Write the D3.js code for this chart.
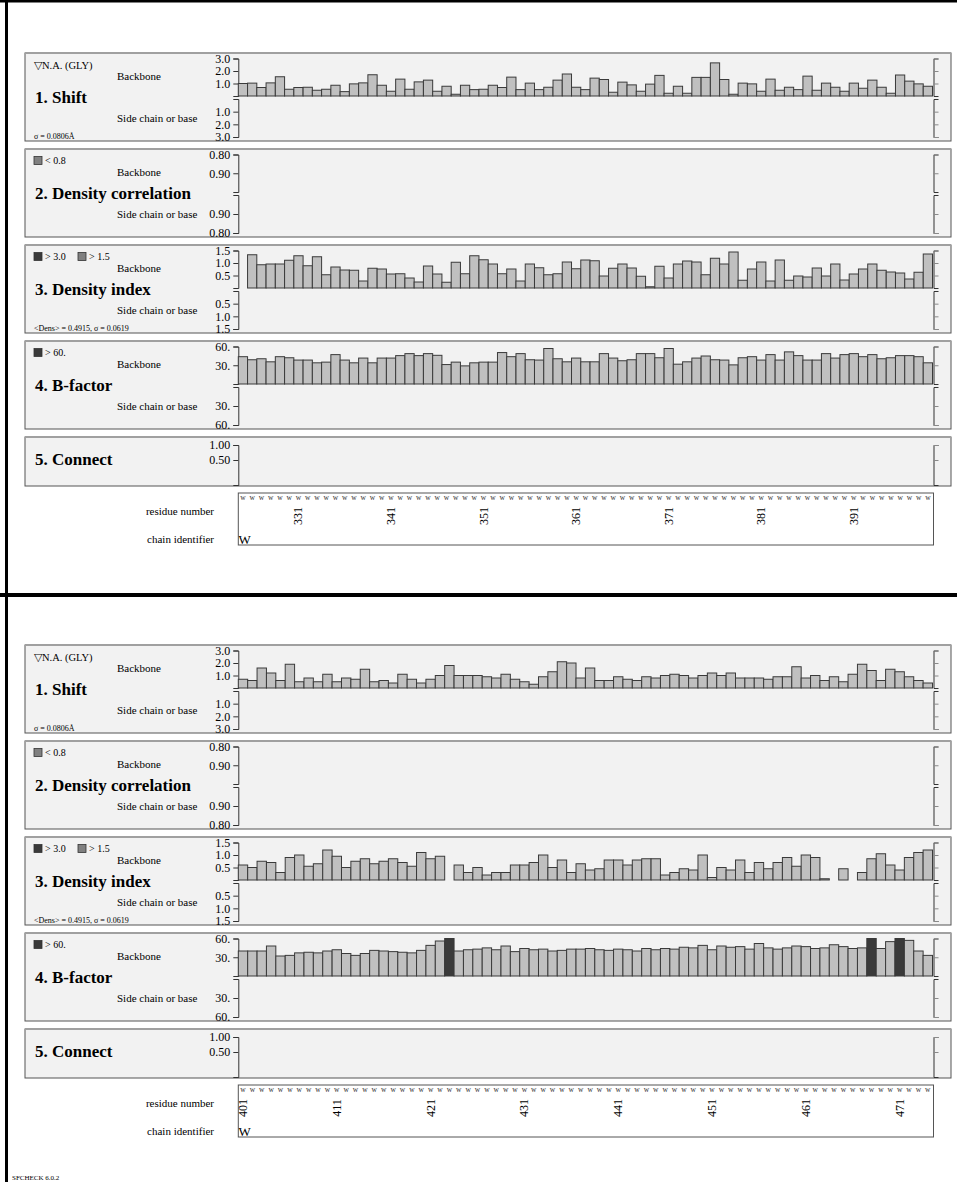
<!DOCTYPE html>
<html><head><meta charset="utf-8">
<script src="https://cdn.jsdelivr.net/npm/d3@7"></script>
<style>
body{margin:0;background:#fff}
svg{display:block;font-family:"Liberation Serif","Times New Roman",serif}
</style></head><body>
<svg id="chart" width="957" height="1182"></svg>
<script>
// ---- residues on each sheet ----
const residuesA = d3.range(325, 400);   // 325 .. 399
const residuesB = d3.range(401, 475);   // 401 .. 474

// ---- backbone values, sheet A ----
const shiftA = [1.00,1.03,0.68,1.05,1.54,0.54,0.68,0.70,0.46,0.54,0.86,0.35,0.97,1.05,1.70,0.86,0.38,1.35,0.54,1.13,
  1.27,0.38,0.78,0.14,0.86,0.51,0.54,0.86,0.68,1.51,0.51,1.03,0.51,0.70,1.27,1.76,0.70,0.51,1.43,1.32,
  0.30,1.11,0.89,0.38,0.95,1.65,0.22,0.78,0.22,1.49,1.49,2.65,1.32,0.14,1.03,0.97,0.38,1.35,0.46,0.70,
  0.51,1.59,0.46,1.03,0.70,0.38,1.03,0.62,1.27,0.70,0.22,1.68,1.19,0.97,0.78];
const densA = [null,1.33,0.93,0.96,0.96,1.11,1.29,0.89,1.25,0.53,0.84,0.72,0.71,0.28,0.79,0.76,0.56,0.57,0.40,0.24,
  0.88,0.56,0.23,1.03,0.57,1.29,1.13,0.96,0.57,0.76,0.28,0.96,0.81,0.53,0.57,1.04,0.77,1.12,1.09,0.48,
  0.79,0.96,0.80,0.47,0.05,0.87,0.40,0.96,1.08,1.04,0.53,1.19,0.96,1.44,0.31,0.76,1.04,0.28,1.12,0.31,
  0.48,0.44,0.80,0.48,0.96,0.32,0.56,0.76,0.96,0.71,0.64,0.60,0.36,0.63,1.36];
const bfacA = [43.7,38.8,40.4,35.5,43.7,42.0,38.3,38.3,33.9,35.0,47.0,38.3,33.9,41.5,33.9,41.5,41.5,45.4,48.6,45.4,
  48.6,45.9,31.1,35.0,29.0,33.9,35.0,35.0,50.3,43.7,48.6,38.8,38.3,56.8,40.4,35.5,41.5,35.5,35.5,48.6,
  41.5,37.2,38.8,48.6,48.6,42.0,56.8,31.7,35.5,41.5,44.8,38.8,38.3,30.6,42.0,43.7,38.3,47.0,38.3,51.4,
  45.4,38.3,38.3,48.6,41.5,47.0,48.6,43.7,47.0,40.4,42.0,45.4,45.4,43.7,33.9];

// ---- backbone values, sheet B ----
const shiftB = [0.7,0.6,1.6,1.2,0.6,1.9,0.5,0.8,0.5,1.1,0.5,0.8,0.7,1.5,0.5,0.6,0.4,1.1,0.7,0.4,
  0.7,1.0,1.8,1.0,1.0,1.0,0.9,0.8,1.1,0.7,0.5,0.3,0.9,1.3,2.1,2.0,0.8,1.6,0.6,0.6,
  0.9,0.7,0.6,0.9,0.8,1.0,1.1,1.0,0.8,1.0,1.2,1.0,1.2,0.8,0.8,0.8,0.7,0.9,0.9,1.7,
  0.8,1.0,0.6,0.9,0.5,1.1,1.9,1.4,0.6,1.5,1.3,0.9,0.6,0.4];
const densB = [0.6,0.5,0.75,0.7,0.3,0.9,1.0,0.55,0.65,1.2,0.95,0.5,0.75,0.85,0.65,0.75,0.85,0.7,0.55,1.1,
  0.85,0.95,null,0.6,0.3,0.5,0.2,0.3,0.3,0.6,0.6,0.7,1.0,0.5,0.8,0.3,0.65,0.4,0.45,0.8,
  0.8,0.6,0.8,0.85,0.85,0.2,0.3,0.45,0.4,1.0,0.1,0.5,0.4,0.8,0.3,0.7,0.45,0.7,0.9,0.55,
  1.0,0.9,0.05,null,0.45,null,0.3,0.85,1.05,0.6,0.4,0.9,1.1,1.2];
const bfacB = [40,40,40,48,32,33,37,38,37,40,42,36,33,36,41,40,39,38,37,41,
  49,56,62,40,42,43,45,42,48,39,44,42,43,40,41,43,43,44,42,41,
  43,42,40,44,42,44,43,46,45,49,42,48,46,47,43,52,45,43,45,48,
  47,44,45,50,47,44,45,62,44,55,62,57,40,33];

// ---- axis ticks ----
const shiftTicks = [1, 2, 3],           shiftLabels = ["1.0", "2.0", "3.0"];
const corrTicks = [0.8, 0.9],           corrLabels = ["0.80", "0.90"];
const densTicks = [0.5, 1.0, 1.5],      densLabels = ["0.5", "1.0", "1.5"];
const bfacTicks = [30, 60],             bfacLabels = ["30.", "60."];
const connTicks = [0.5, 1.0],           connLabels = ["0.50", "1.00"];

const titles = ["1. Shift", "2. Density correlation", "3. Density index", "4. B-factor", "5. Connect"];

// ---- layout ----
const svg = d3.select("#chart");
const W = 957, H = 1182;
const PL = 25, PR = 951;          // panel box
const XA = 238.3, XB = 932.5;     // plotting strip
const panelTops = [53, 149, 245, 341, 437];
const PH = 88, CONN_H = 49;

const BAR_FILL = "#c0c0c0", BAR_MID = "#808080", BAR_DARK = "#3a3a3a";

function tickFmt(ticks, labels) {
  return v => labels[ticks.findIndex(t => Math.abs(t - v) < 1e-9)];
}

function axisPair(g, scale, ticks, labels) {
  const left = d3.axisLeft(scale).tickValues(ticks).tickFormat(tickFmt(ticks, labels))
    .tickSizeInner(5).tickSizeOuter(5).tickPadding(3);
  const right = d3.axisRight(scale).tickValues(ticks).tickFormat("")
    .tickSizeInner(5).tickSizeOuter(5);
  const gl = g.append("g").attr("transform", `translate(${XA},0)`).call(left);
  const gr = g.append("g").attr("transform", `translate(${XB + 1},0)`).call(right);
  [gl, gr].forEach(a => {
    a.selectAll("path.domain").attr("stroke", "#333").attr("stroke-width", 1);
    a.selectAll(".tick line").attr("stroke", "#333");
    a.selectAll(".tick text").attr("font-size", 12).attr("fill", "#000")
      .attr("font-family", "'Liberation Serif',serif");
  });
  gr.selectAll(".tick line").attr("stroke", "#8a8a8a");
}

function panelBox(g, top, h) {
  g.append("rect").attr("x", PL).attr("y", top).attr("width", PR - PL).attr("height", h)
    .attr("fill", "#f2f2f2").attr("stroke", "#555").attr("stroke-width", 1);
  g.append("line").attr("x1", PL).attr("x2", PR).attr("y1", top).attr("y2", top)
    .attr("stroke", "#a0a0a0").attr("stroke-width", 2);
}

function drawBars(g, x, scale, base, values, colorOf) {
  const data = values.map((v, i) => ({ i, v })).filter(d => d.v != null);
  const dom = scale.domain();
  const vmax = Math.max(dom[0], dom[1]);
  g.append("g").selectAll("rect").data(data).join("rect")
    .attr("x", d => x(d.i))
    .attr("width", x.bandwidth())
    .attr("y", d => scale(Math.min(d.v, vmax)))
    .attr("height", d => base - scale(Math.min(d.v, vmax)))
    .attr("fill", d => colorOf(d.v))
    .attr("stroke", "#3a3a3a").attr("stroke-width", 1);
}

function swatch(g, x, y, color) {
  g.append("rect").attr("x", x).attr("y", y).attr("width", 8).attr("height", 8)
    .attr("fill", color).attr("stroke", "#333").attr("stroke-width", 0.8);
}

function text(g, x, y, s, size, opts = {}) {
  return g.append("text").attr("x", x).attr("y", y).attr("font-size", size)
    .attr("font-weight", opts.bold ? "bold" : null)
    .attr("text-anchor", opts.anchor || "start").attr("fill", "#000").text(s);
}

function drawSheet(oy, residues, shift, dens, bfac) {
  const g = svg.append("g").attr("transform", `translate(0,${oy})`);
  const x = d3.scaleBand().domain(d3.range(residues.length)).range([XA, XB]).padding(0);

  panelTops.forEach((top, k) => {
    const h = k === 4 ? CONN_H : PH;
    panelBox(g, top, h);
    const pg = g.append("g");
    const bbTop = top + 5.5, bbBase = top + 43, scTop = top + 46, scEnd = top + 84;

    if (k < 4) {
      text(pg, 117, top + 27, "Backbone", 11);
      text(pg, 117, top + 68.5, "Side chain or base", 11);
      text(pg, 35, top + 50, titles[k], 17, { bold: true });
    } else {
      text(pg, 35, top + 28, titles[k], 17, { bold: true });
    }

    if (k === 0) {
      const bb = d3.scaleLinear().domain([0, 3]).range([bbBase, bbTop]);
      const sc = d3.scaleLinear().domain([0, 3]).range([scTop, scEnd]);
      axisPair(pg, bb, shiftTicks, shiftLabels);
      axisPair(pg, sc, shiftTicks, shiftLabels);
      drawBars(pg, x, bb, bbBase, shift, () => BAR_FILL);
      text(pg, 34, top + 16, "\u25BDN.A. (GLY)", 10.5);
      text(pg, 34, top + 86, "\u03C3 = 0.0806\u00C5", 8);
    } else if (k === 1) {
      const bb = d3.scaleLinear().domain([0.8, 1.0]).range([bbTop, bbBase]);
      const sc = d3.scaleLinear().domain([1.0, 0.8]).range([scTop, scEnd]);
      axisPair(pg, bb, corrTicks, corrLabels);
      axisPair(pg, sc, corrTicks, corrLabels);
      swatch(pg, 34, top + 7.5, BAR_MID);
      text(pg, 45, top + 15, "< 0.8", 10);
    } else if (k === 2) {
      const bb = d3.scaleLinear().domain([0, 1.5]).range([bbBase, bbTop]);
      const sc = d3.scaleLinear().domain([0, 1.5]).range([scTop, scEnd]);
      axisPair(pg, bb, densTicks, densLabels);
      axisPair(pg, sc, densTicks, densLabels);
      drawBars(pg, x, bb, bbBase, dens, v => v > 3.0 ? BAR_DARK : v > 1.5 ? BAR_MID : BAR_FILL);
      swatch(pg, 34, top + 7.5, BAR_DARK);
      text(pg, 45, top + 15, "> 3.0", 10);
      swatch(pg, 78, top + 7.5, BAR_MID);
      text(pg, 89, top + 15, "> 1.5", 10);
      text(pg, 34, top + 86, "<Dens> = 0.4915,  \u03C3 =  0.0619", 8);
    } else if (k === 3) {
      const bb = d3.scaleLinear().domain([0, 60]).range([bbBase, bbTop]);
      const sc = d3.scaleLinear().domain([0, 60]).range([scTop, scEnd]);
      axisPair(pg, bb, bfacTicks, bfacLabels);
      axisPair(pg, sc, bfacTicks, bfacLabels);
      drawBars(pg, x, bb, bbBase, bfac, v => v > 60 ? BAR_DARK : BAR_FILL);
      swatch(pg, 34, top + 7.5, BAR_DARK);
      text(pg, 45, top + 15, "> 60.", 10);
    } else {
      // connectivity axis: 1.00 near the top, 0.50 mid-way, running to the box floor
      const cs = d3.scaleLinear().domain([0.5 - 0.5 * (CONN_H - 24) / 15, 1]).range([top + CONN_H - 1, top + 8]);
      axisPair(pg, cs, connTicks, connLabels);
    }
  });

  // residue strip
  const by = 493, bh = 52;
  g.append("rect").attr("x", XA).attr("y", by).attr("width", XB + 1 - XA).attr("height", bh)
    .attr("fill", "#fff").attr("stroke", "#555").attr("stroke-width", 1);
  g.append("g").selectAll("text").data(residues).join("text")
    .attr("x", (d, i) => x(i) + x.bandwidth() / 2).attr("y", by + 6.5)
    .attr("text-anchor", "middle").attr("font-size", 7.5).attr("fill", "#333").text("w");
  g.append("g").selectAll("text").data(residues.map((r, i) => ({ r, i })).filter(d => d.r % 10 === 1))
    .join("text")
    .attr("transform", d => `translate(${x(d.i) + x.bandwidth() / 2 + 4},${by + 23}) rotate(-90)`)
    .attr("text-anchor", "middle").attr("font-size", 12).attr("fill", "#000").text(d => d.r);
  text(g, 214, 515, "residue number", 11, { anchor: "end" });
  text(g, 214, 543, "chain identifier", 11, { anchor: "end" });
  text(g, 238.5, 544, "W", 13);
}

drawSheet(0, residuesA, shiftA, densA, bfacA);
drawSheet(592, residuesB, shiftB, densB, bfacB);

// sheet frames
svg.append("line").attr("x1", 0).attr("x2", W).attr("y1", 1).attr("y2", 1).attr("stroke", "#000").attr("stroke-width", 3);
svg.append("line").attr("x1", 0).attr("x2", W).attr("y1", 595).attr("y2", 595).attr("stroke", "#000").attr("stroke-width", 4);
svg.append("line").attr("x1", 6.5).attr("x2", 6.5).attr("y1", 0).attr("y2", H).attr("stroke", "#000").attr("stroke-width", 3);
text(svg, 12, 1180, "SFCHECK 6.0.2", 7);
</script>
</body></html>
